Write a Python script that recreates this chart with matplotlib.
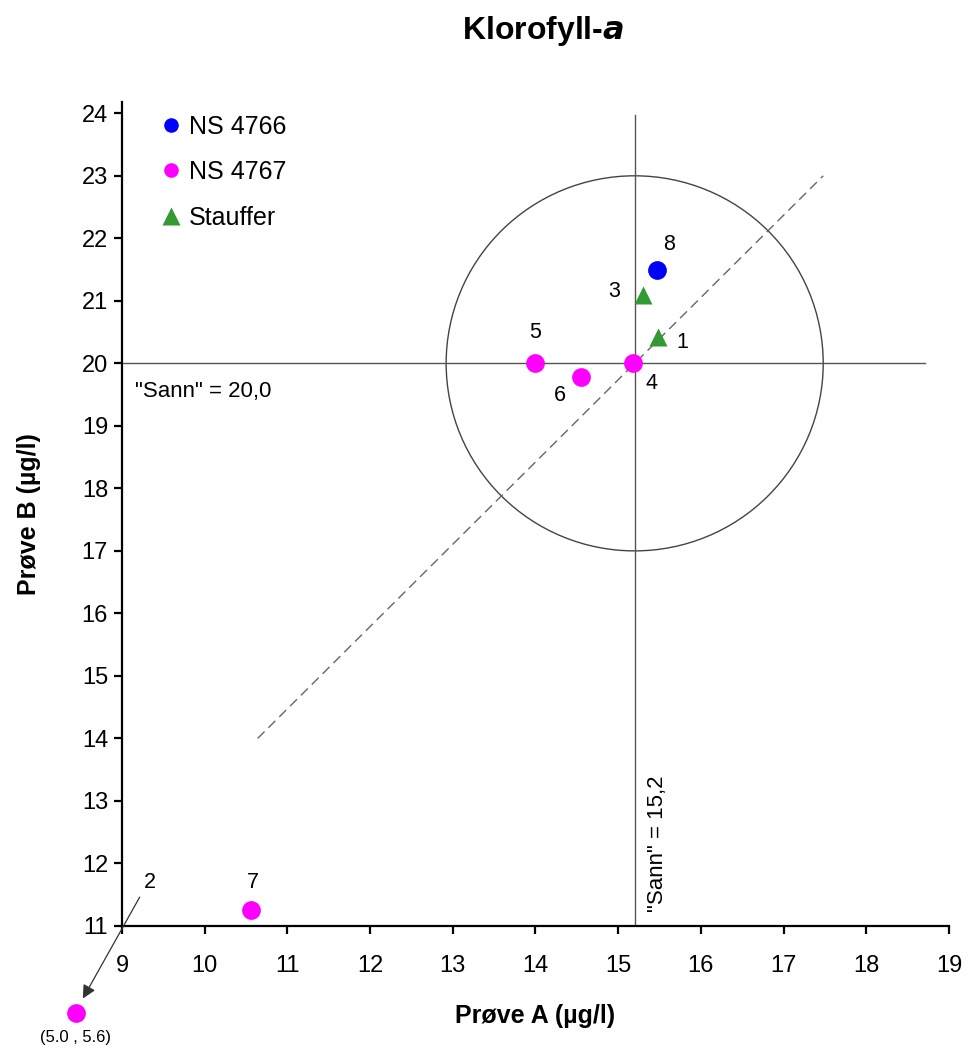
import matplotlib.pyplot as plt
import numpy as np
from matplotlib.patches import Ellipse

plt.rcParams['font.family'] = ['Liberation Sans', 'DejaVu Sans']

# true values
true_a = 15.2
true_b = 20.0

# results per method (lab number, A, B)
ns4766_lab = ['8']
ns4766_a = [15.47]
ns4766_b = [21.5]

ns4767_lab = ['5', '6', '4', '7']
ns4767_a = [14.0, 14.55, 15.18, 10.56]
ns4767_b = [20.0, 19.78, 20.0, 11.25]

stauffer_lab = ['3', '1']
stauffer_a = [15.3, 15.48]
stauffer_b = [21.1, 20.42]

# lab 2 is off scale, shown below the axes with an arrow
off_lab = '2'
off_value = (5.0, 5.6)
off_shown = (8.44, 9.6)

fig = plt.figure(figsize=(9.66, 10.52), dpi=100)
ax = fig.add_axes([0.1263, 0.1198, 0.856, 0.7832])

ax.set_xlim(9, 19)
ax.set_ylim(11, 24.18)

# 15% circle around true value
ax.add_patch(Ellipse((true_a, true_b), 2 * 0.15 * true_a, 2 * 0.15 * true_b,
                     fill=False, ec='#444444', lw=1.0, zorder=1))
ax.plot([true_a, true_a], [11, 23.97], color='#555555', lw=1.0, zorder=1)
ax.plot([9, 18.71], [true_b, true_b], color='#555555', lw=1.0, zorder=1)
xs = np.array([14.0, 23.0]) * true_a / true_b
ax.plot(xs, xs * true_b / true_a, color='#666666', lw=1.0, ls=(0, (7, 4)), zorder=1)

ms = 13.5
ax.plot(ns4766_a, ns4766_b, 'o', color='#0000ff', ms=ms, mec='none', zorder=3)
ax.plot(ns4767_a, ns4767_b, 'o', color='#ff00ff', ms=ms, mec='none', zorder=3)
ax.plot(stauffer_a, stauffer_b, '^', color='#339933', ms=ms, mec='none', zorder=3)
ax.plot([off_shown[0]], [off_shown[1]], 'o', color='#ff00ff', ms=ms, mec='none',
        clip_on=False, zorder=3)

offsets = {'8': (0.15, 0.4), '5': (0.0, 0.5), '6': (-0.25, -0.3), '4': (0.22, -0.32),
           '7': (0.02, 0.45), '3': (-0.35, 0.05), '1': (0.3, -0.08)}
for labs, xa, yb in [(ns4766_lab, ns4766_a, ns4766_b), (ns4767_lab, ns4767_a, ns4767_b),
                     (stauffer_lab, stauffer_a, stauffer_b)]:
    for l, x, y in zip(labs, xa, yb):
        dx, dy = offsets[l]
        ax.text(x + dx, y + dy, l, fontsize=15.5, ha='center', va='center')

ax.annotate('', xy=(off_shown[0] + 0.07, off_shown[1] + 0.2), xytext=(9.23, 11.5),
            arrowprops=dict(arrowstyle='-|>', color='#333333', lw=0.9,
                            mutation_scale=20), annotation_clip=False)
ax.text(9.34, 11.7, off_lab, fontsize=15.5, ha='center', va='center')
ax.text(off_shown[0], off_shown[1] - 0.38, '(%.1f , %.1f)' % off_value,
        fontsize=12, ha='center', va='center', clip_on=False)

ax.text(9.16, 19.55, '"Sann" = 20,0', fontsize=16, ha='left', va='center')
ax.text(15.47, 11.22, '"Sann" = 15,2', fontsize=16, ha='center', va='bottom',
        rotation=90)

# legend
h1 = plt.Line2D([], [], marker='o', ls='', color='#0000ff', ms=10.5, mec='none')
h2 = plt.Line2D([], [], marker='o', ls='', color='#ff00ff', ms=10.5, mec='none')
h3 = plt.Line2D([], [], marker='^', ls='', color='#339933', ms=12.5, mec='none')
ax.legend([h1, h2, h3], ['NS 4766', 'NS 4767', 'Stauffer'], loc='upper left',
          bbox_to_anchor=(0.014, 1.012), frameon=False, fontsize=18,
          handletextpad=0.1, labelspacing=0.86, handlelength=1.2)

for s in ['top', 'right']:
    ax.spines[s].set_visible(False)
for s in ['left', 'bottom']:
    ax.spines[s].set_linewidth(1.6)
ax.spines['left'].set_bounds(11, 24.18)
ax.set_xticks(range(9, 20))
ax.set_yticks(range(11, 25))
ax.tick_params(direction='out', length=6, width=1.6, labelsize=17)
ax.tick_params(axis='x', pad=15)
ax.tick_params(axis='y', pad=4)

ax.set_xlabel('Prøve A (µg/l)', fontsize=18, fontweight='bold', labelpad=19)
ax.set_ylabel('Prøve B (µg/l)', fontsize=18, fontweight='bold', labelpad=29)
fig.text(0.562, 0.9705, 'Klorofyll-$\\boldsymbol{a}$', fontsize=23, fontweight='bold',
         ha='center', va='center')

fig.savefig('out.png', dpi=100)
